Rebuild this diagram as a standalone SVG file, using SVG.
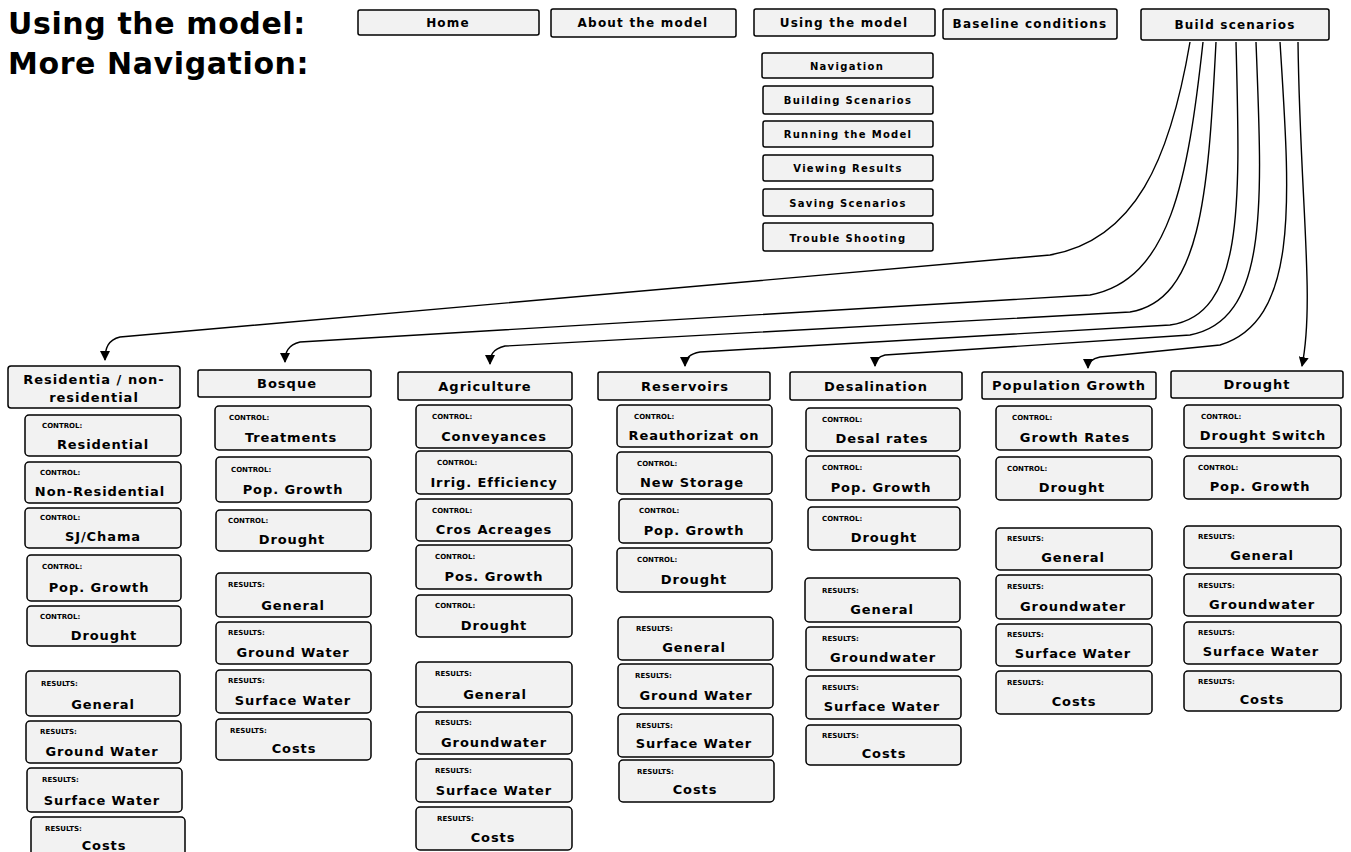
<svg xmlns="http://www.w3.org/2000/svg" width="1351" height="852" viewBox="0 0 1351 852">
<defs>
<marker id="arr" viewBox="0 0 10 10" refX="9" refY="5" markerWidth="10" markerHeight="10" markerUnits="userSpaceOnUse" orient="auto">
<path d="M0,0 L10,5 L0,10 z" fill="#000"/>
</marker>
<style>
.title{font-family:"DejaVu Sans",sans-serif;font-weight:bold;font-size:30px;letter-spacing:0.6px;fill:#000}
.nav rect{fill:#f2f2f2;stroke:#000;stroke-width:1.5}
.nav text{font-family:"DejaVu Sans",sans-serif;font-size:12px;font-weight:bold;letter-spacing:1.2px;text-anchor:middle;fill:#000}
.sub rect{fill:#f2f2f2;stroke:#000;stroke-width:1.5}
.sub text{font-family:"DejaVu Sans",sans-serif;font-size:10px;font-weight:bold;letter-spacing:1.3px;text-anchor:middle;fill:#000}
.hd rect{fill:#f2f2f2;stroke:#000;stroke-width:1.5}
.hd text{font-family:"DejaVu Sans",sans-serif;font-size:13px;font-weight:bold;letter-spacing:1px;text-anchor:middle;fill:#000}
.ch rect{fill:#f2f2f2;stroke:#000;stroke-width:1.5}
.ch .lb{font-family:"DejaVu Sans",sans-serif;font-size:7px;font-weight:bold;fill:#000}
.ch .v{font-family:"DejaVu Sans",sans-serif;font-size:13px;font-weight:bold;letter-spacing:0.9px;text-anchor:middle;fill:#000}
.con path{fill:none;stroke:#000;stroke-width:1.4}
</style>
</defs>
<rect width="1351" height="852" fill="#fff"/>
<text class="title" x="8" y="34">Using the model:</text>
<text class="title" x="8" y="74">More Navigation:</text>

<g id="nav-home" class="nav"><rect x="358" y="10" width="181" height="25" rx="2"/><text x="448" y="27">Home</text></g>
<g id="nav-about" class="nav"><rect x="551" y="9" width="185" height="28" rx="2"/><text x="643" y="27">About the model</text></g>
<g id="nav-using" class="nav"><rect x="754" y="9" width="181" height="27" rx="2"/><text x="844" y="27">Using the model</text></g>
<g id="nav-baseline" class="nav"><rect x="943" y="9" width="174" height="30" rx="2"/><text x="1030" y="28">Baseline conditions</text></g>
<g id="nav-build" class="nav"><rect x="1141" y="9" width="188" height="31" rx="2"/><text x="1235" y="29">Build scenarios</text></g>

<g id="sub-navigation" class="sub"><rect x="762" y="53" width="171" height="25" rx="2"/><text x="847" y="70">Navigation</text></g>
<g id="sub-building" class="sub"><rect x="763" y="86" width="170" height="28" rx="2"/><text x="848" y="104">Building Scenarios</text></g>
<g id="sub-running" class="sub"><rect x="763" y="121" width="170" height="26" rx="2"/><text x="848" y="138">Running the Model</text></g>
<g id="sub-viewing" class="sub"><rect x="763" y="155" width="170" height="26" rx="2"/><text x="848" y="172">Viewing Results</text></g>
<g id="sub-saving" class="sub"><rect x="763" y="189" width="170" height="27" rx="2"/><text x="848" y="207">Saving Scenarios</text></g>
<g id="sub-trouble" class="sub"><rect x="763" y="223" width="170" height="28" rx="2"/><text x="848" y="242">Trouble Shooting</text></g>

<g id="connectors" class="con">
<path d="M1190,42 C1170,160 1135,240 1050,255 L120,337 C108,340 105,348 105,360" marker-end="url(#arr)"/>
<path d="M1203,42 C1188,180 1170,280 1090,295 L300,342 C288,345 285,352 285,362" marker-end="url(#arr)"/>
<path d="M1216,42 C1208,200 1200,300 1130,312 L505,346 C492,349 490,356 490,364" marker-end="url(#arr)"/>
<path d="M1236,42 C1240,200 1245,315 1170,325 L700,352 C688,354 685,360 685,366" marker-end="url(#arr)"/>
<path d="M1256,42 C1262,200 1270,320 1190,335 L885,355 C877,357 875,361 875,366" marker-end="url(#arr)"/>
<path d="M1280,42 C1290,200 1300,320 1220,345 L1100,357 C1091,359 1088,363 1088,368" marker-end="url(#arr)"/>
<path d="M1298,42 C1300,200 1315,300 1302,366" marker-end="url(#arr)"/>
</g>

<g id="col-residential">
<g id="h-res" class="hd"><rect x="8" y="366" width="172" height="42" rx="3"/><text x="94" y="384">Residentia / non-</text><text x="94" y="402">residential</text></g>
<g id="res-1" class="ch"><rect x="25" y="415" width="156" height="41" rx="4"/><text class="lb" x="42" y="428">CONTROL:</text><text class="v" x="103" y="449">Residential</text></g>
<g id="res-2" class="ch"><rect x="25" y="462" width="156" height="41" rx="4"/><text class="lb" x="40" y="475">CONTROL:</text><text class="v" x="100" y="496">Non-Residential</text></g>
<g id="res-3" class="ch"><rect x="25" y="508" width="156" height="40" rx="4"/><text class="lb" x="40" y="520">CONTROL:</text><text class="v" x="103" y="541">SJ/Chama</text></g>
<g id="res-4" class="ch"><rect x="27" y="555" width="154" height="46" rx="4"/><text class="lb" x="42" y="569">CONTROL:</text><text class="v" x="99" y="592">Pop. Growth</text></g>
<g id="res-5" class="ch"><rect x="27" y="606" width="154" height="40" rx="4"/><text class="lb" x="40" y="619">CONTROL:</text><text class="v" x="104" y="640">Drought</text></g>
<g id="res-6" class="ch"><rect x="26" y="671" width="154" height="45" rx="4"/><text class="lb" x="41" y="686">RESULTS:</text><text class="v" x="103" y="709">General</text></g>
<g id="res-7" class="ch"><rect x="26" y="721" width="155" height="42" rx="4"/><text class="lb" x="40" y="734">RESULTS:</text><text class="v" x="102" y="756">Ground Water</text></g>
<g id="res-8" class="ch"><rect x="27" y="768" width="155" height="44" rx="4"/><text class="lb" x="42" y="782">RESULTS:</text><text class="v" x="102" y="805">Surface Water</text></g>
<g id="res-9" class="ch"><rect x="31" y="817" width="154" height="40" rx="4"/><text class="lb" x="45" y="831">RESULTS:</text><text class="v" x="104" y="850">Costs</text></g>
</g>

<g id="col-bosque">
<g id="h-bos" class="hd"><rect x="198" y="370" width="173" height="27" rx="2"/><text x="287" y="388">Bosque</text></g>
<g id="bos-1" class="ch"><rect x="215" y="406" width="156" height="44" rx="4"/><text class="lb" x="229" y="420">CONTROL:</text><text class="v" x="291" y="442">Treatments</text></g>
<g id="bos-2" class="ch"><rect x="216" y="457" width="155" height="45" rx="4"/><text class="lb" x="231" y="472">CONTROL:</text><text class="v" x="293" y="494">Pop. Growth</text></g>
<g id="bos-3" class="ch"><rect x="216" y="510" width="155" height="41" rx="4"/><text class="lb" x="228" y="523">CONTROL:</text><text class="v" x="292" y="544">Drought</text></g>
<g id="bos-4" class="ch"><rect x="216" y="573" width="155" height="44" rx="4"/><text class="lb" x="228" y="587">RESULTS:</text><text class="v" x="293" y="610">General</text></g>
<g id="bos-5" class="ch"><rect x="216" y="622" width="155" height="42" rx="4"/><text class="lb" x="228" y="635">RESULTS:</text><text class="v" x="293" y="657">Ground Water</text></g>
<g id="bos-6" class="ch"><rect x="216" y="670" width="155" height="43" rx="4"/><text class="lb" x="228" y="683">RESULTS:</text><text class="v" x="293" y="705">Surface Water</text></g>
<g id="bos-7" class="ch"><rect x="216" y="719" width="155" height="41" rx="4"/><text class="lb" x="230" y="733">RESULTS:</text><text class="v" x="294" y="753">Costs</text></g>
</g>

<g id="col-agriculture">
<g id="h-agr" class="hd"><rect x="398" y="372" width="174" height="28" rx="2"/><text x="485" y="391">Agriculture</text></g>
<g id="agr-1" class="ch"><rect x="416" y="405" width="156" height="43" rx="4"/><text class="lb" x="432" y="419">CONTROL:</text><text class="v" x="494" y="441">Conveyances</text></g>
<g id="agr-2" class="ch"><rect x="416" y="451" width="156" height="43" rx="4"/><text class="lb" x="437" y="465">CONTROL:</text><text class="v" x="494" y="487">Irrig. Efficiency</text></g>
<g id="agr-3" class="ch"><rect x="416" y="499" width="156" height="42" rx="4"/><text class="lb" x="432" y="513">CONTROL:</text><text class="v" x="494" y="534">Cros Acreages</text></g>
<g id="agr-4" class="ch"><rect x="416" y="545" width="156" height="44" rx="4"/><text class="lb" x="435" y="559">CONTROL:</text><text class="v" x="494" y="581">Pos. Growth</text></g>
<g id="agr-5" class="ch"><rect x="416" y="595" width="156" height="42" rx="4"/><text class="lb" x="435" y="608">CONTROL:</text><text class="v" x="494" y="630">Drought</text></g>
<g id="agr-6" class="ch"><rect x="416" y="662" width="156" height="45" rx="4"/><text class="lb" x="435" y="676">RESULTS:</text><text class="v" x="495" y="699">General</text></g>
<g id="agr-7" class="ch"><rect x="416" y="712" width="156" height="42" rx="4"/><text class="lb" x="435" y="725">RESULTS:</text><text class="v" x="494" y="747">Groundwater</text></g>
<g id="agr-8" class="ch"><rect x="416" y="759" width="156" height="43" rx="4"/><text class="lb" x="435" y="773">RESULTS:</text><text class="v" x="494" y="795">Surface Water</text></g>
<g id="agr-9" class="ch"><rect x="416" y="807" width="156" height="43" rx="4"/><text class="lb" x="437" y="821">RESULTS:</text><text class="v" x="493" y="842">Costs</text></g>
</g>

<g id="col-reservoirs">
<g id="h-rsv" class="hd"><rect x="598" y="372" width="172" height="28" rx="2"/><text x="685" y="391">Reservoirs</text></g>
<g id="rsv-1" class="ch"><rect x="617" y="405" width="155" height="42" rx="4"/><text class="lb" x="634" y="419">CONTROL:</text><text class="v" x="694" y="440">Reauthorizat on</text></g>
<g id="rsv-2" class="ch"><rect x="617" y="452" width="155" height="42" rx="4"/><text class="lb" x="637" y="466">CONTROL:</text><text class="v" x="692" y="487">New Storage</text></g>
<g id="rsv-3" class="ch"><rect x="619" y="499" width="153" height="44" rx="4"/><text class="lb" x="639" y="513">CONTROL:</text><text class="v" x="694" y="535">Pop. Growth</text></g>
<g id="rsv-4" class="ch"><rect x="617" y="548" width="155" height="44" rx="4"/><text class="lb" x="637" y="562">CONTROL:</text><text class="v" x="694" y="584">Drought</text></g>
<g id="rsv-5" class="ch"><rect x="618" y="617" width="155" height="43" rx="4"/><text class="lb" x="636" y="631">RESULTS:</text><text class="v" x="694" y="652">General</text></g>
<g id="rsv-6" class="ch"><rect x="618" y="664" width="155" height="44" rx="4"/><text class="lb" x="635" y="678">RESULTS:</text><text class="v" x="696" y="700">Ground Water</text></g>
<g id="rsv-7" class="ch"><rect x="618" y="714" width="155" height="43" rx="4"/><text class="lb" x="636" y="728">RESULTS:</text><text class="v" x="694" y="748">Surface Water</text></g>
<g id="rsv-8" class="ch"><rect x="619" y="760" width="155" height="42" rx="4"/><text class="lb" x="637" y="774">RESULTS:</text><text class="v" x="695" y="794">Costs</text></g>
</g>

<g id="col-desalination">
<g id="h-des" class="hd"><rect x="790" y="372" width="172" height="28" rx="2"/><text x="876" y="391">Desalination</text></g>
<g id="des-1" class="ch"><rect x="806" y="408" width="154" height="43" rx="4"/><text class="lb" x="822" y="422">CONTROL:</text><text class="v" x="882" y="443">Desal rates</text></g>
<g id="des-2" class="ch"><rect x="806" y="456" width="154" height="44" rx="4"/><text class="lb" x="822" y="470">CONTROL:</text><text class="v" x="881" y="492">Pop. Growth</text></g>
<g id="des-3" class="ch"><rect x="808" y="507" width="152" height="43" rx="4"/><text class="lb" x="822" y="521">CONTROL:</text><text class="v" x="884" y="542">Drought</text></g>
<g id="des-4" class="ch"><rect x="805" y="578" width="155" height="44" rx="4"/><text class="lb" x="822" y="593">RESULTS:</text><text class="v" x="882" y="614">General</text></g>
<g id="des-5" class="ch"><rect x="806" y="627" width="155" height="43" rx="4"/><text class="lb" x="822" y="641">RESULTS:</text><text class="v" x="883" y="662">Groundwater</text></g>
<g id="des-6" class="ch"><rect x="806" y="676" width="155" height="43" rx="4"/><text class="lb" x="822" y="690">RESULTS:</text><text class="v" x="882" y="711">Surface Water</text></g>
<g id="des-7" class="ch"><rect x="806" y="725" width="155" height="40" rx="4"/><text class="lb" x="822" y="738">RESULTS:</text><text class="v" x="884" y="758">Costs</text></g>
</g>

<g id="col-popgrowth">
<g id="h-pop" class="hd"><rect x="982" y="372" width="174" height="27" rx="2"/><text x="1069" y="390">Population Growth</text></g>
<g id="pop-1" class="ch"><rect x="996" y="406" width="156" height="44" rx="4"/><text class="lb" x="1012" y="420">CONTROL:</text><text class="v" x="1075" y="442">Growth Rates</text></g>
<g id="pop-2" class="ch"><rect x="996" y="457" width="156" height="43" rx="4"/><text class="lb" x="1007" y="471">CONTROL:</text><text class="v" x="1072" y="492">Drought</text></g>
<g id="pop-3" class="ch"><rect x="996" y="528" width="156" height="42" rx="4"/><text class="lb" x="1007" y="541">RESULTS:</text><text class="v" x="1073" y="562">General</text></g>
<g id="pop-4" class="ch"><rect x="996" y="575" width="156" height="44" rx="4"/><text class="lb" x="1007" y="589">RESULTS:</text><text class="v" x="1073" y="611">Groundwater</text></g>
<g id="pop-5" class="ch"><rect x="996" y="624" width="156" height="42" rx="4"/><text class="lb" x="1007" y="637">RESULTS:</text><text class="v" x="1073" y="658">Surface Water</text></g>
<g id="pop-6" class="ch"><rect x="996" y="671" width="156" height="43" rx="4"/><text class="lb" x="1007" y="685">RESULTS:</text><text class="v" x="1074" y="706">Costs</text></g>
</g>

<g id="col-drought">
<g id="h-dro" class="hd"><rect x="1171" y="371" width="172" height="27" rx="2"/><text x="1257" y="389">Drought</text></g>
<g id="dro-1" class="ch"><rect x="1184" y="405" width="157" height="43" rx="4"/><text class="lb" x="1201" y="419">CONTROL:</text><text class="v" x="1263" y="440">Drought Switch</text></g>
<g id="dro-2" class="ch"><rect x="1184" y="456" width="157" height="43" rx="4"/><text class="lb" x="1198" y="470">CONTROL:</text><text class="v" x="1260" y="491">Pop. Growth</text></g>
<g id="dro-3" class="ch"><rect x="1184" y="526" width="157" height="42" rx="4"/><text class="lb" x="1198" y="539">RESULTS:</text><text class="v" x="1262" y="560">General</text></g>
<g id="dro-4" class="ch"><rect x="1184" y="574" width="157" height="42" rx="4"/><text class="lb" x="1198" y="588">RESULTS:</text><text class="v" x="1262" y="609">Groundwater</text></g>
<g id="dro-5" class="ch"><rect x="1184" y="622" width="157" height="42" rx="4"/><text class="lb" x="1198" y="635">RESULTS:</text><text class="v" x="1261" y="656">Surface Water</text></g>
<g id="dro-6" class="ch"><rect x="1184" y="671" width="157" height="40" rx="4"/><text class="lb" x="1198" y="684">RESULTS:</text><text class="v" x="1262" y="704">Costs</text></g>
</g>
</svg>
